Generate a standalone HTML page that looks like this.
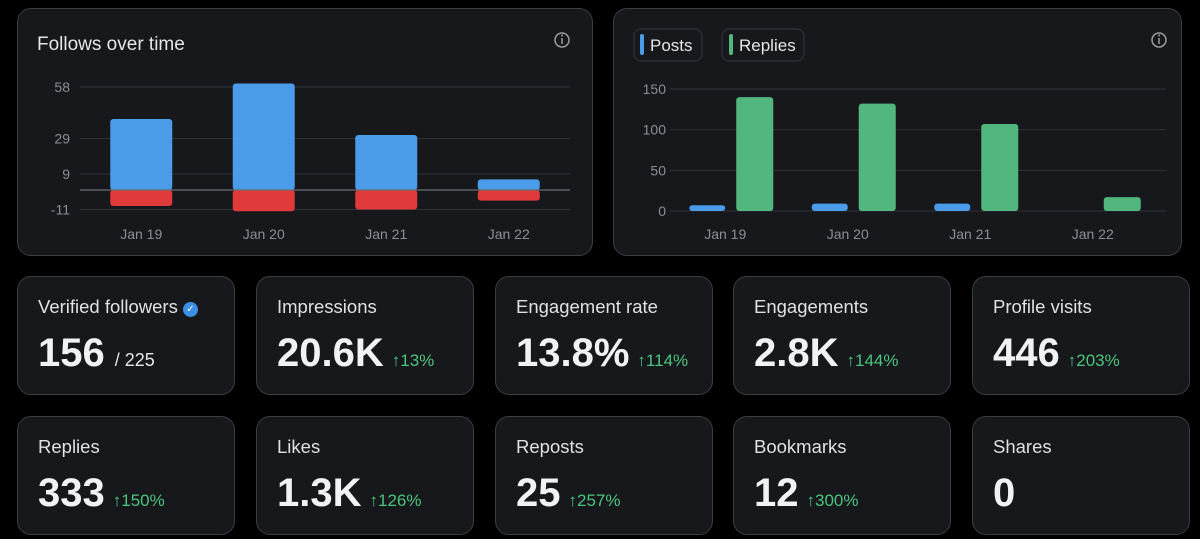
<!DOCTYPE html>
<html><head><meta charset="utf-8"><style>
body{margin:0;width:1200px;height:539px;background:#000;overflow:hidden;font-family:"Liberation Sans",sans-serif;position:relative}
.card{position:absolute;background:#16181c;border:1px solid #3a3d42;border-radius:14px;box-sizing:border-box}
.stat{width:218px;height:119px}
.lbl{position:absolute;left:20px;top:19px;font-size:18.5px;color:#dfe1e4}
.val{position:absolute;left:20px;top:54px;font-size:40px;font-weight:bold;color:#f1f2f3;white-space:nowrap}
.chg{font-size:17px;font-weight:normal;color:#4cc47e;margin-left:8px}
.sub{font-size:18px;font-weight:normal;color:#e6e6e6;margin-left:10px}
svg text{font-family:"Liberation Sans",sans-serif}
</style></head><body>
<div class="card" style="left:17px;top:8px;width:576px;height:248px"></div>
<div class="card" style="left:613px;top:8px;width:569px;height:248px"></div>
<svg width="1200" height="270" style="position:absolute;left:0;top:0" id="charts">
<text x="37" y="50" font-size="19" fill="#e4e6e8">Follows over time</text>
<g><circle cx="562" cy="40" r="7" fill="none" stroke="#9a9ca0" stroke-width="1.5"/><line x1="562" y1="38" x2="562" y2="44" stroke="#9a9ca0" stroke-width="1.5"/><circle cx="562" cy="35.5" r="1" fill="#9a9ca0"/></g>
<g><circle cx="1159" cy="40" r="7" fill="none" stroke="#9a9ca0" stroke-width="1.5"/><line x1="1159" y1="38" x2="1159" y2="44" stroke="#9a9ca0" stroke-width="1.5"/><circle cx="1159" cy="35.5" r="1" fill="#9a9ca0"/></g>
<g><rect x="634" y="29" width="68" height="32" rx="7" fill="#16181c" stroke="#34373c"/><rect x="640" y="34" width="4" height="21" rx="2" fill="#4a9be8"/><text x="650" y="51" font-size="17" fill="#e4e6e8">Posts</text></g>
<g><rect x="722" y="29" width="82" height="32" rx="7" fill="#16181c" stroke="#34373c"/><rect x="729" y="34" width="4" height="21" rx="2" fill="#52b67f"/><text x="739" y="51" font-size="17" fill="#e4e6e8">Replies</text></g>
<g id="left"></g><g id="right"></g>
</svg>
<script>
const categories=["Jan 19","Jan 20","Jan 21","Jan 22"];
const followsGained=[40,60,31,6];
const followsLost=[-9,-12,-11,-6];
const followTicks=[58,29,9,-11];
const posts=[7,9,9,0];
const replies=[140,132,107,17];
const replyTicks=[150,100,50,0];
const NS="http://www.w3.org/2000/svg";
function mk(p,t,a){const e=document.createElementNS(NS,t);for(const k in a)e.setAttribute(k,a[k]);p.appendChild(e);return e;}
function bar(p,x,y0,y1,w,fill){const top=Math.min(y0,y1),h=Math.abs(y1-y0);return mk(p,"rect",{x:x,y:top,width:w,height:Math.max(h,0.01),rx:3,fill:fill});}
const L=document.getElementById("left");
const ly=v=>190-v*1.776, lx0=80, lcw=122.5;
followTicks.forEach(t=>{
 const g=mk(L,"line",{x1:lx0,x2:570,y1:ly(t),y2:ly(t),stroke:"#2f3236","stroke-width":1});
 
 
 const tx=mk(L,"text",{x:70,y:ly(t)+5,"text-anchor":"end","font-size":14,fill:"#8b8e93"});tx.textContent=t;
 
 
});
categories.forEach((c,i)=>{
 const cx=lx0+lcw*(i+0.5);
 const b=bar(L,cx-31,ly(0),ly(followsGained[i]),62,"#4a9be8");
 
 
 const r=bar(L,cx-31,ly(0),ly(followsLost[i]),62,"#e03a3a");
 
 
 const t=mk(L,"text",{x:cx,y:239,"text-anchor":"middle","font-size":14,fill:"#8b8e93"});t.textContent=c;
 
 
});
const z=mk(L,"line",{x1:lx0,x2:570,y1:ly(0),y2:ly(0),stroke:"#6a6d72","stroke-width":1.2});


const R=document.getElementById("right");
const ry=v=>211-v*0.813, rx0=670, rcw=122.5;
replyTicks.forEach(t=>{
 const g=mk(R,"line",{x1:rx0,x2:1166,y1:ry(t),y2:ry(t),stroke:"#2f3236","stroke-width":1});
 
 
 const tx=mk(R,"text",{x:666,y:ry(t)+5,"text-anchor":"end","font-size":14,fill:"#8b8e93"});tx.textContent=t;
 
 
});
categories.forEach((c,i)=>{
 const cx=rx0+rcw*(i+0.5)-6;
 if(posts[i]>0){const b=bar(R,cx-36,ry(0),ry(posts[i]),36,"#4a9be8");
 
 }
 const r=bar(R,cx+11,ry(0),ry(replies[i]),37,"#52b67f");
 
 
 const t=mk(R,"text",{x:cx,y:239,"text-anchor":"middle","font-size":14,fill:"#8b8e93"});t.textContent=c;
 
 
});
</script>
<div class="card stat" style="left:17px;top:276px"><div class="lbl">Verified followers <span style="display:inline-block;width:15px;height:15px;border-radius:50%;background:#3b8fe6;color:#fff;font-size:10px;text-align:center;line-height:15px;vertical-align:1px">✓</span></div><div class="val">156<span class="sub">/ 225</span></div></div>
<div class="card stat" style="left:256px;top:276px"><div class="lbl">Impressions</div><div class="val">20.6K<span class="chg">↑13%</span></div></div>
<div class="card stat" style="left:495px;top:276px"><div class="lbl">Engagement rate</div><div class="val">13.8%<span class="chg">↑114%</span></div></div>
<div class="card stat" style="left:733px;top:276px"><div class="lbl">Engagements</div><div class="val">2.8K<span class="chg">↑144%</span></div></div>
<div class="card stat" style="left:972px;top:276px"><div class="lbl">Profile visits</div><div class="val">446<span class="chg">↑203%</span></div></div>
<div class="card stat" style="left:17px;top:416px"><div class="lbl">Replies</div><div class="val">333<span class="chg">↑150%</span></div></div>
<div class="card stat" style="left:256px;top:416px"><div class="lbl">Likes</div><div class="val">1.3K<span class="chg">↑126%</span></div></div>
<div class="card stat" style="left:495px;top:416px"><div class="lbl">Reposts</div><div class="val">25<span class="chg">↑257%</span></div></div>
<div class="card stat" style="left:733px;top:416px"><div class="lbl">Bookmarks</div><div class="val">12<span class="chg">↑300%</span></div></div>
<div class="card stat" style="left:972px;top:416px"><div class="lbl">Shares</div><div class="val">0</div></div>
</body></html>
